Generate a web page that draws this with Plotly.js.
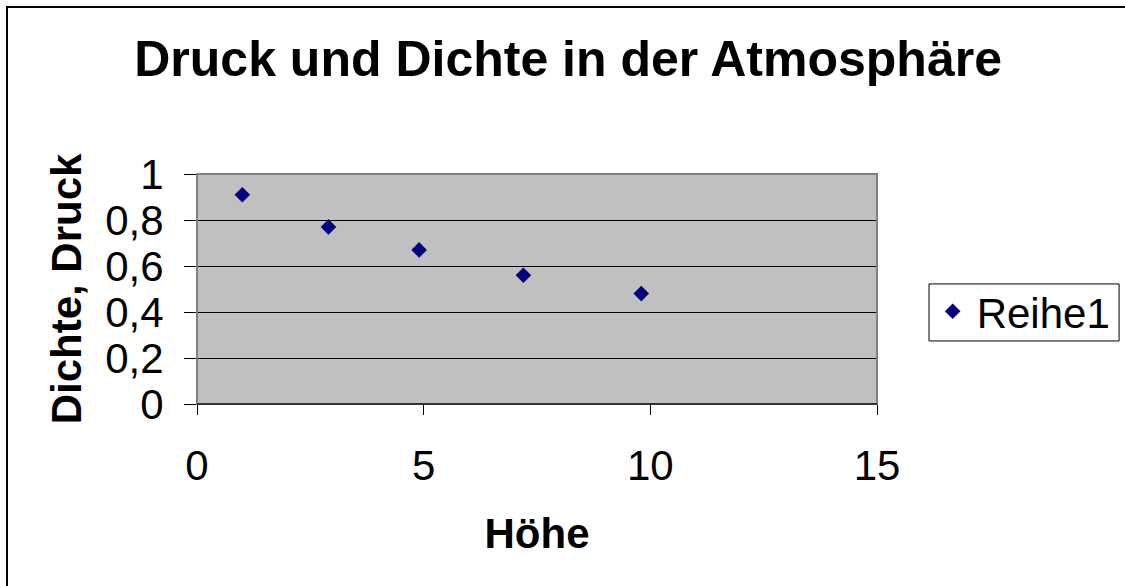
<!DOCTYPE html>
<html>
<head>
<meta charset="utf-8">
<script src="https://cdn.plot.ly/plotly-3.0.1.min.js"></script>
<style>
html, body { margin:0; padding:0; background:#fff; overflow:hidden; }
#frame { position:absolute; left:6px; top:6px; width:1200px; height:700px; border-left:2px solid #000; border-top:2px solid #000; }
#chart { position:absolute; left:0; top:0; width:1125px; height:586px; }
</style>
</head>
<body>
<div id="frame"></div>
<div id="chart"></div>
<script>
const heights = [1, 2.9, 4.9, 7.2, 9.8];
const values = [0.91, 0.77, 0.67, 0.56, 0.48];
const seriesName = 'Reihe1';
const titleText = 'Druck und Dichte in der Atmosphäre';
const xTitle = 'Höhe';
const yTitle = 'Dichte, Druck';

const font = 'Liberation Sans, Arial, sans-serif';

const data = [{
  x: heights, y: values, type: 'scatter', mode: 'markers', name: seriesName,
  marker: { symbol: 'diamond', size: 12, color: '#000080' }
}];

const layout = {
  width: 1125, height: 586,
  paper_bgcolor: 'rgba(0,0,0,0)',
  plot_bgcolor: '#C0C0C0',
  separators: ',.',
  font: { family: font, color: '#000', size: 42 },
  margin: { l: 197, r: 248, t: 174, b: 182, pad: 0, autoexpand: false },
  title: { text: titleText, font: { family: font, size: 50, weight: 'bold', color: '#000' },
           x: 0.505, xanchor: 'center', y: 0.9, yanchor: 'middle' },
  showlegend: true,
  legend: {
    x: 1.076, xanchor: 'left', y: 0.55, yanchor: 'top',
    borderwidth: 0, bgcolor: 'rgba(0,0,0,0)',
    font: { family: font, size: 42 }, itemwidth: 38
  },
  xaxis: {
    range: [0, 15], dtick: 5, tick0: 0, showgrid: false, zeroline: false,
    showline: true, linecolor: '#333', linewidth: 1,
    ticks: 'outside', ticklen: 10, tickcolor: '#000', tickwidth: 1,
    ticklabelstandoff: 15,
    tickfont: { family: font, size: 42 },
    title: { text: xTitle, font: { family: font, size: 42, weight: 'bold' }, standoff: 30 }
  },
  yaxis: {
    range: [0, 1], dtick: 0.2, tick0: 0, showgrid: true, gridcolor: '#000', gridwidth: 1,
    zeroline: false, showline: true, linecolor: '#555', linewidth: 1,
    ticks: 'outside', ticklen: 12, tickcolor: '#000', tickwidth: 1,
    ticklabelstandoff: 12,
    tickfont: { family: font, size: 42 },
    title: { text: yTitle, font: { family: font, size: 42, weight: 'bold' }, standoff: 10 }
  },
  shapes: [{
    type: 'rect', xref: 'paper', yref: 'paper', x0: 0, x1: 1, y0: 0, y1: 1,
    line: { color: '#808080', width: 2 }, layer: 'above'
  }, {
    type: 'line', xref: 'paper', yref: 'paper', x0: 0, x1: 1, y0: 0, y1: 0,
    line: { color: '#333', width: 2 }, layer: 'above'
  }, {
    type: 'rect', xref: 'paper', yref: 'paper', x0: 1.0765, x1: 1.356, y0: 0.274, y1: 0.522,
    line: { color: '#000', width: 1 }, fillcolor: 'rgba(0,0,0,0)', layer: 'above'
  }]
};

Plotly.newPlot('chart', data, layout, { displayModeBar: false, staticPlot: true });
</script>
</body>
</html>
